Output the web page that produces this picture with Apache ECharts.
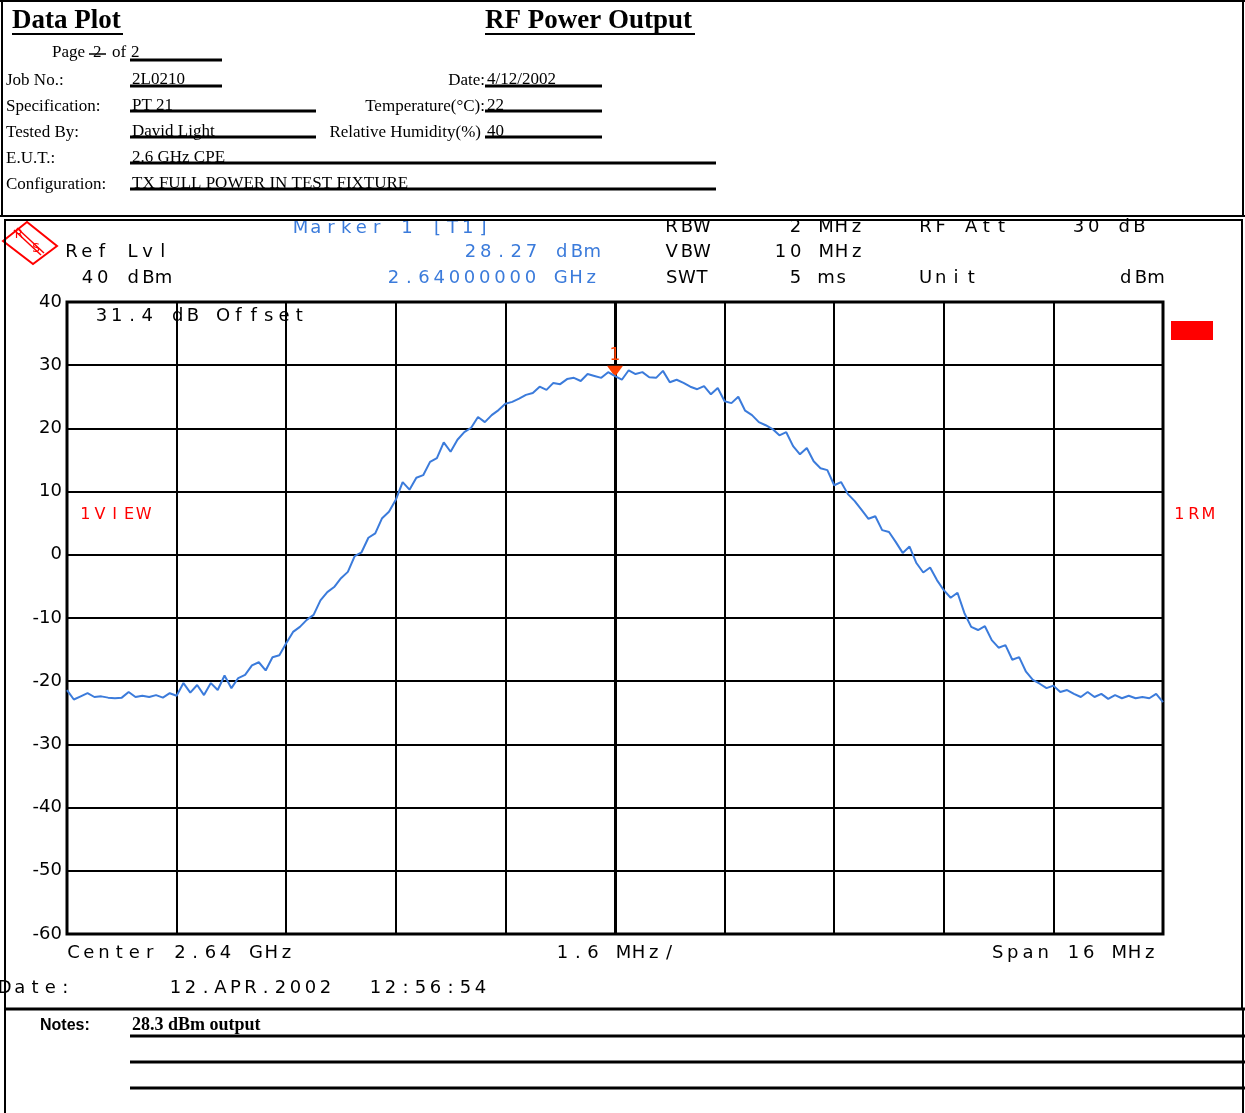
<!DOCTYPE html>
<html>
<head>
<meta charset="utf-8">
<title>RF Power Output</title>
<script src="https://cdn.jsdelivr.net/npm/echarts@6/dist/echarts.min.js"></script>
<style>
  html, body { margin: 0; padding: 0; background: #fff; }
  #chart { position: absolute; left: 0; top: 0; width: 1245px; height: 1113px; }
</style>
</head>
<body>
<div id="chart"></div>
<script>
// Sweep settings (MHz)
const sweepStart = 2632;
const sweepStop = 2648;
const sweepPoints = 161;
const divisionMHz = 1.6;

// Trace levels (dBm), one per sweep point
const traceLevel = [
  -21.4,-22.9,-22.4,-21.9,-22.5,-22.4,-22.6,-22.7,-22.6,-21.7,
  -22.5,-22.3,-22.5,-22.2,-22.6,-21.9,-22.3,-20.3,-21.8,-20.6,
  -22.2,-20.3,-21.4,-19.1,-21.1,-19.5,-19.0,-17.5,-17.0,-18.3,
  -16.2,-15.9,-14.0,-12.2,-11.4,-10.3,-9.5,-7.2,-5.9,-5.1,
  -3.7,-2.7,-0.2,0.4,2.7,3.4,5.8,6.8,8.7,11.5,
  10.3,12.2,12.6,14.7,15.3,17.8,16.3,18.2,19.4,20.1,
  21.8,21.0,22.1,22.9,23.9,24.2,24.7,25.3,25.6,26.6,
  26.1,27.2,27.0,27.8,28.0,27.5,28.6,28.3,28.0,28.9,
  28.27,27.7,29.2,28.6,28.9,28.1,28.0,29.1,27.3,27.7,
  27.2,26.6,26.2,26.7,25.4,26.4,24.3,24.0,25.0,22.8,
  22.1,21.0,20.5,19.9,18.9,19.4,17.2,15.9,16.9,14.8,
  13.7,13.4,11.0,11.5,9.6,8.5,7.1,5.7,6.1,3.9,
  3.6,2.0,0.3,1.3,-1.3,-2.8,-2.0,-4.0,-5.6,-6.8,
  -6.0,-9.2,-11.4,-11.9,-11.3,-13.5,-14.7,-14.3,-16.6,-16.2,
  -18.5,-19.8,-20.4,-21.1,-20.7,-21.7,-21.4,-22.0,-22.5,-21.7,
  -22.5,-22.0,-22.8,-22.2,-22.7,-22.3,-22.7,-22.5,-22.7,-22.0,
  -23.3
];

// Marker 1
const markerFreq = 2640;
const markerLevel = 28.27;

// Level axis
const levelMin = -60;
const levelMax = 40;
const levelStep = 10;

// Form fields
const headerFields = [
  ['Job No.:', '2L0210'],
  ['Specification:', 'PT 21'],
  ['Tested By:', 'David Light'],
  ['E.U.T.:', '2.6 GHz CPE'],
  ['Configuration:', 'TX FULL POWER IN TEST FIXTURE']
];
const sideFields = [
  ['Date:', '4/12/2002'],
  ['Temperature(\u00B0C):', '22'],
  ['Relative Humidity(%)', '40']
];
const noteText = '28.3 dBm output';

const stepMHz = (sweepStop - sweepStart) / (sweepPoints - 1);
const traceData = traceLevel.map((v, i) => [+(sweepStart + i * stepMHz).toFixed(3), v]);

const BLUE = '#3b7bdb';
const RED = '#ff0000';
const PITCH = 15.2;
const MONO_FONT = '18px "DejaVu Sans"';

// Instrument-style text: every glyph sits in its own fixed-width cell
function cells(str, x, y, color, pitch, font) {
  const p = pitch || PITCH;
  const out = [];
  for (let i = 0; i < str.length; i++) {
    const c = str[i];
    if (c === ' ') continue;
    out.push({
      type: 'text', silent: true, z: 10,
      style: { text: c, x: x + i * p + p / 2, y: y, textAlign: 'center', textVerticalAlign: 'middle',
               font: font || MONO_FONT, fill: color || '#000' }
    });
  }
  return out;
}
function txt(str, x, y, font, align, color) {
  return { type: 'text', silent: true, z: 10,
    style: { text: str, x: x, y: y, font: font, textAlign: align || 'left', textVerticalAlign: 'middle', fill: color || '#000' } };
}
function hline(x1, x2, y, w) {
  return { type: 'line', silent: true, z: 11, shape: { x1: x1, y1: y, x2: x2, y2: y }, style: { stroke: '#000', lineWidth: w || 2 } };
}
function vline(x, y1, y2, w) {
  return { type: 'line', silent: true, z: 11, shape: { x1: x, y1: y1, x2: x, y2: y2 }, style: { stroke: '#000', lineWidth: w || 2 } };
}

const SERIF = '17px "Liberation Serif"';
const graphics = [];

// Header block
graphics.push(hline(0, 1245, 1, 2), vline(2, 0, 216, 2), vline(1243, 0, 216, 2), hline(0, 1245, 216, 2));
graphics.push(txt('Data Plot', 12, 21, 'bold 27px "Liberation Serif"'), hline(12, 123, 34, 2));
graphics.push(txt('RF Power Output', 485, 21, 'bold 27px "Liberation Serif"'), hline(485, 695, 34, 2));
graphics.push(txt('Page', 52, 53, SERIF), txt('2', 93, 53, SERIF), hline(89, 106, 54, 1.5),
              txt('of', 112, 53, SERIF), txt('2', 131, 53, SERIF), hline(130, 222, 60, 3));
const rowY = [81, 107, 133, 159, 185];
const lineY = [86, 111, 137, 163, 189];
const lineEnd = [222, 316, 316, 716, 716];
headerFields.forEach((f, i) => {
  graphics.push(txt(f[0], 6, rowY[i], SERIF));
  graphics.push(txt(f[1], 132, rowY[i] - 1, SERIF));
  graphics.push(hline(130, lineEnd[i], lineY[i], 3));
});
sideFields.forEach((f, i) => {
  graphics.push(txt(f[0], i === 2 ? 481 : 485, rowY[i], SERIF, 'right'));
  graphics.push(txt(f[1], 487, rowY[i] - 1, SERIF));
  graphics.push(hline(485, 602, lineY[i], 3));
});

// Analyzer screen frame
graphics.push(hline(4, 1243, 220, 2), vline(5, 220, 1009, 2), vline(1242, 220, 1009, 2));

// R&S logo
graphics.push({
  type: 'polygon', silent: true, z: 10,
  shape: { points: [[3, 241], [27, 222], [57, 246], [33, 264]] },
  style: { fill: 'none', stroke: RED, lineWidth: 2 }
});
graphics.push({ type: 'line', silent: true, z: 10, shape: { x1: 14, y1: 230, x2: 41, y2: 255 }, style: { stroke: RED, lineWidth: 1.5 } });
graphics.push({ type: 'line', silent: true, z: 10, shape: { x1: 17, y1: 228, x2: 44, y2: 253 }, style: { stroke: RED, lineWidth: 1.5 } });
graphics.push(txt('R', 19, 235, '12px "DejaVu Sans"', 'center', RED));
graphics.push(txt('S', 36, 249, '12px "DejaVu Sans"', 'center', RED));

// Instrument settings
graphics.push(...cells('Marker 1 [T1]', 293, 228, BLUE));
graphics.push(...cells('Ref Lvl', 64, 252));
graphics.push(...cells('40 dBm', 80, 278));
graphics.push(...cells('28.27 dBm', 463, 252, BLUE));
graphics.push(...cells('2.64000000 GHz', 386, 278, BLUE));
graphics.push(...cells('RBW', 664, 227));
graphics.push(...cells('2 MHz', 788, 227));
graphics.push(...cells('RF Att', 918, 227));
graphics.push(...cells('30 dB', 1071, 227));
graphics.push(...cells('VBW', 664, 252));
graphics.push(...cells('10 MHz', 773, 252));
graphics.push(...cells('SWT', 664, 278));
graphics.push(...cells('5 ms', 788, 278));
graphics.push(...cells('Unit', 918, 278));
graphics.push(...cells('dBm', 1118, 278));
graphics.push(...cells('31.4 dB Offset', 94, 316));
graphics.push(...cells('1VIEW', 78, 515, RED, 14.6, '16px "DejaVu Sans"'));
graphics.push(...cells('1RM', 1172, 515, RED, 14.6, '16px "DejaVu Sans"'));
graphics.push({ type: 'rect', silent: true, z: 10, shape: { x: 1171, y: 321, width: 42, height: 19 }, style: { fill: RED } });
graphics.push(...cells('Center 2.64 GHz', 66, 953));
graphics.push(...cells('1.6 MHz/', 555, 953));
graphics.push(...cells('Span 16 MHz', 990, 953));
graphics.push(...cells('Date:', -3, 988));
graphics.push(...cells('12.APR.2002', 168, 988, '#000', 15));
graphics.push(...cells('12:56:54', 368, 988, '#000', 15));

// Notes block
graphics.push(hline(4, 1245, 1009, 3), vline(5, 1009, 1113, 2), vline(1243, 1009, 1113, 2));
graphics.push(txt('Notes:', 40, 1026, 'bold 16px "Liberation Sans"'));
graphics.push(txt(noteText, 132, 1025, 'bold 18px "Liberation Serif"'));
graphics.push(hline(130, 1245, 1036, 3), hline(130, 1245, 1062, 3), hline(130, 1245, 1088, 3));

const chart = echarts.init(document.getElementById('chart'), null, { renderer: 'canvas' });
chart.setOption({
  animation: false,
  backgroundColor: '#fff',
  grid: { left: 67, top: 302, width: 1096, height: 632, show: true, borderColor: '#000', borderWidth: 3, backgroundColor: 'transparent' },
  xAxis: {
    type: 'value', min: sweepStart, max: sweepStop, interval: divisionMHz,
    axisLine: { show: false }, axisTick: { show: false }, axisLabel: { show: false },
    splitLine: { show: true, lineStyle: { color: '#000', width: 2 } }
  },
  yAxis: {
    type: 'value', min: levelMin, max: levelMax, interval: levelStep,
    axisLine: { show: false }, axisTick: { show: false },
    axisLabel: { color: '#000', fontFamily: 'DejaVu Sans', fontSize: 18, margin: 5 },
    splitLine: { show: true, lineStyle: { color: '#000', width: 2 } }
  },
  series: [{
    type: 'line',
    data: traceData,
    showSymbol: false,
    symbol: 'none',
    lineStyle: { color: BLUE, width: 2 },
    z: 5,
    markLine: {
      silent: true, symbol: 'none', label: { show: false },
      lineStyle: { color: '#000', width: 3, type: 'solid' },
      data: [{ xAxis: markerFreq }]
    },
    markPoint: {
      silent: true,
      symbol: 'triangle', symbolRotate: 180, symbolSize: [16, 11], symbolOffset: [0, -5],
      itemStyle: { color: '#ff4000' },
      label: { show: true, position: 'top', distance: 2, formatter: '1', color: '#ff4000', fontSize: 17, fontFamily: 'DejaVu Sans' },
      data: [{ coord: [markerFreq, markerLevel] }]
    }
  }],
  graphic: { elements: graphics }
});
</script>
</body>
</html>
